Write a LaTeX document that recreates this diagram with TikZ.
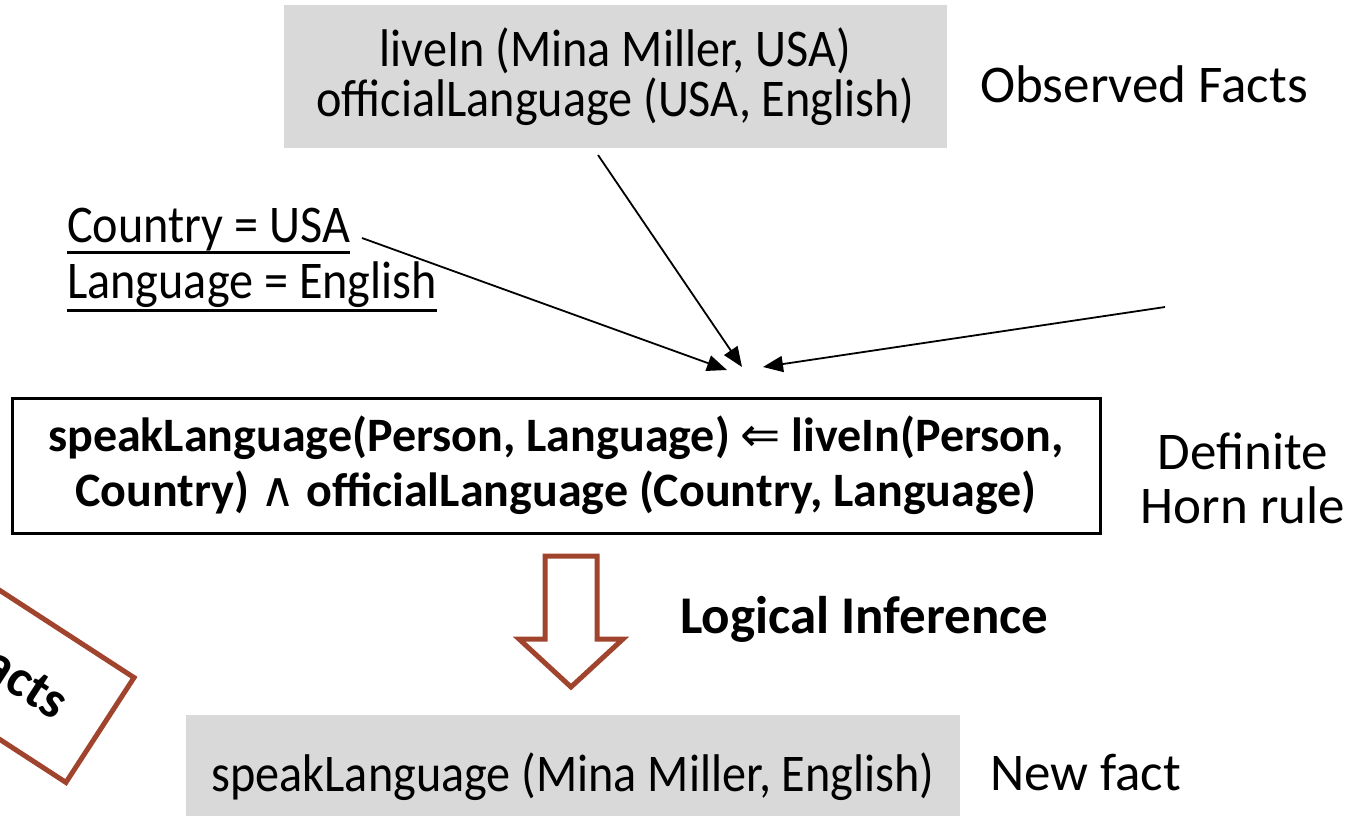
\documentclass[tikz,border=0pt]{standalone}
\usepackage{fontspec}
\setmainfont{Carlito}
\newfontfamily\narrowfont[FakeStretch=0.91]{Carlito}
\newfontfamily\symfont{DejaVu Sans}
\usetikzlibrary{arrows.meta}
\definecolor{factgray}{RGB}{217,217,217}
\definecolor{infbrown}{RGB}{160,68,46}

\begin{document}
\begin{tikzpicture}[x=1pt,y=-1pt,
  txt/.style={inner sep=0pt, font=\fontsize{53}{54}\selectfont},
  ntxt/.style={inner sep=0pt, font=\fontsize{53}{50}\selectfont\narrowfont},
  factbox/.style={ntxt, fill=factgray, align=center},
  rulebox/.style={draw=black, line width=3pt, fill=white, align=center, inner sep=0pt,
    font=\fontsize{48}{55}\selectfont\bfseries},
  link/.style={line width=1.8pt, -{Triangle[length=20pt,width=16pt]}},
  uline/.style={line width=2.5pt},
  infarrow/.style={draw=infbrown, line width=5pt, fill=white, line join=miter},
  tagbox/.style={draw=infbrown, line width=5pt, fill=white}
]
\useasboundingbox (0,0) rectangle (1345,815);

% observed facts
\node[factbox, minimum width=663pt, minimum height=143pt] (obs) at (615.5,76.5)
  {liveIn (Mina Miller, USA)\\officialLanguage (USA, English)};
\node[txt, anchor=base west] (obslbl) at (980,102) {Observed Facts};

% variable bindings, underlined
\node[ntxt, anchor=base west] (bind1) at (67,242) {Country = USA};
\node[ntxt, anchor=base west] (bind2) at (67,298) {Language = English};
\draw[uline] ([yshift=-2pt]bind1.south west) -- ([yshift=-2pt]bind1.south east);
\draw[uline] ([yshift=-3pt]bind2.south west) -- ([yshift=-3pt]bind2.south east);

% arrow sources and targets
\coordinate (s1) at (598,155);  \coordinate (t1) at (742,367);
\coordinate (s2) at (362,238);  \coordinate (t2) at (727,370);
\coordinate (s3) at (1165,307); \coordinate (t3) at (763,367);
\draw[link] (s1) -- (t1);
\draw[link] (s2) -- (t2);
\draw[link] (s3) -- (t3);

% the rule
\node[rulebox, minimum width=1088pt, minimum height=135pt] (rule) at (556,465.5)
  {speakLanguage(Person, Language) {\symfont\mdseries ⇐} liveIn(Person,\\
   Country) {\symfont\mdseries ∧} officialLanguage (Country, Language)};
\node[txt, align=center] (rulelbl) at (1243,478) {Definite\\Horn rule};

% inference step
\draw[infarrow] (545,556) -- (597,556) -- (597,639) -- (623,639) -- (571,687)
  -- (519,639) -- (545,639) -- cycle;
\node[txt, font=\fontsize{53}{54}\selectfont\bfseries, anchor=base west] (inf) at (680,633) {Logical Inference};

% new fact
\node[factbox, minimum width=774pt, minimum height=124pt] (new) at (573,777)
  {speakLanguage (Mina Miller, English)};
\node[txt, anchor=base west] (newlbl) at (990,790) {New fact};

% tilted tag
\begin{scope}[shift={(100,730)}, rotate=-33]
  \draw[tagbox] (-330,-62.5) rectangle (0,62.5);
  \node[txt, font=\fontsize{53}{54}\selectfont\bfseries, anchor=east, rotate=-33] (tag) at (-43,0) {Facts};
\end{scope}
\end{tikzpicture}
\end{document}
